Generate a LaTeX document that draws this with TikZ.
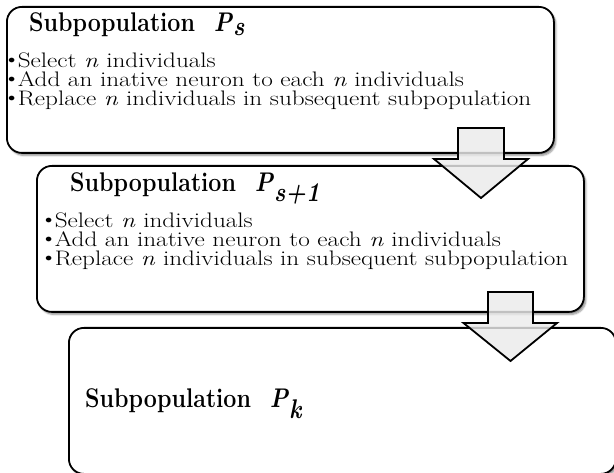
\documentclass[tikz,border=0pt]{standalone}
\usepackage{graphicx}
\usetikzlibrary{shadows.blur}
\definecolor{arrowfill}{RGB}{235,235,235}
\newcommand{\titlefont}{\fontsize{27}{29}\selectfont\bfseries}
\newcommand{\bodyfont}{\fontsize{21}{23}\selectfont}
\newcommand{\bul}{\raisebox{4pt}{\fontsize{12}{12}\selectfont$\bullet$}\kern2pt}
\newcommand{\bodyline}[1]{\scalebox{1.2}[1]{\bodyfont #1}}
\newcommand{\titleline}[1]{\scalebox{0.86}[1]{\titlefont #1}}
\newcommand{\bi}[1]{\textbf{\textit{#1}}}
\begin{document}
\begin{tikzpicture}[x=1pt,y=-1pt,
  boxs/.style={draw=black, line width=1.8pt, rounded corners=15pt, fill=white,
    minimum width=547pt, minimum height=146pt, anchor=north west, inner sep=0pt,
    blur shadow={shadow xshift=2pt, shadow yshift=-2.5pt, shadow blur steps=6, shadow opacity=45}},
  blockarrow/.style={draw=black, line width=1.8pt, line join=miter, fill=arrowfill, fill opacity=0.82, draw opacity=1},
  ttl/.style={anchor=base west, inner sep=0pt},
  txt/.style={anchor=base west, inner sep=0pt}]
\useasboundingbox (0,0) rectangle (614,473);
% boxes
\node[boxs] (b1) at (6,6) {};
\node[ttl] (t1) at (29,32) {\titleline{Subpopulation\hspace{22pt}\bi{P}$_{\bi{s}}$}};
\node[txt] (l11) at (8,68) {\bodyline{\bul Select \textit{n} individuals}};
\node[txt] (l12) at (8,87) {\bodyline{\bul Add an inative neuron to each \textit{n} individuals}};
\node[txt] (l13) at (8,106) {\bodyline{\bul Replace \textit{n} individuals in subsequent subpopulation}};

\node[boxs] (b2) at (36,165) {};
\node[ttl] (t2) at (70,192) {\titleline{Subpopulation\hspace{22pt}\bi{P}$_{\bi{s+1}}$}};
\node[txt] (l21) at (45,228) {\bodyline{\bul Select \textit{n} individuals}};
\node[txt] (l22) at (45,247) {\bodyline{\bul Add an inative neuron to each \textit{n} individuals}};
\node[txt] (l23) at (45,266) {\bodyline{\bul Replace \textit{n} individuals in subsequent subpopulation}};

% arrow 1
\coordinate (a1) at (458,128);
\draw[blockarrow] (a1) -- ++(46,0) -- ++(0,31) -- ++(24,0) -- ++(-47,39)
  -- ++(-47,-39) -- ++(24,0) -- cycle;

\node[boxs] (b3) at (68,327) {};
\node[ttl] (t3) at (85,408) {\titleline{Subpopulation\hspace{22pt}\bi{P}$_{\bi{k}}$}};

% arrow 2
\coordinate (a2) at (488,292);
\draw[blockarrow] (a2) -- ++(45,0) -- ++(0,31) -- ++(24,0) -- ++(-46.5,38)
  -- ++(-47,-38) -- ++(24.5,0) -- cycle;
\end{tikzpicture}
\end{document}
